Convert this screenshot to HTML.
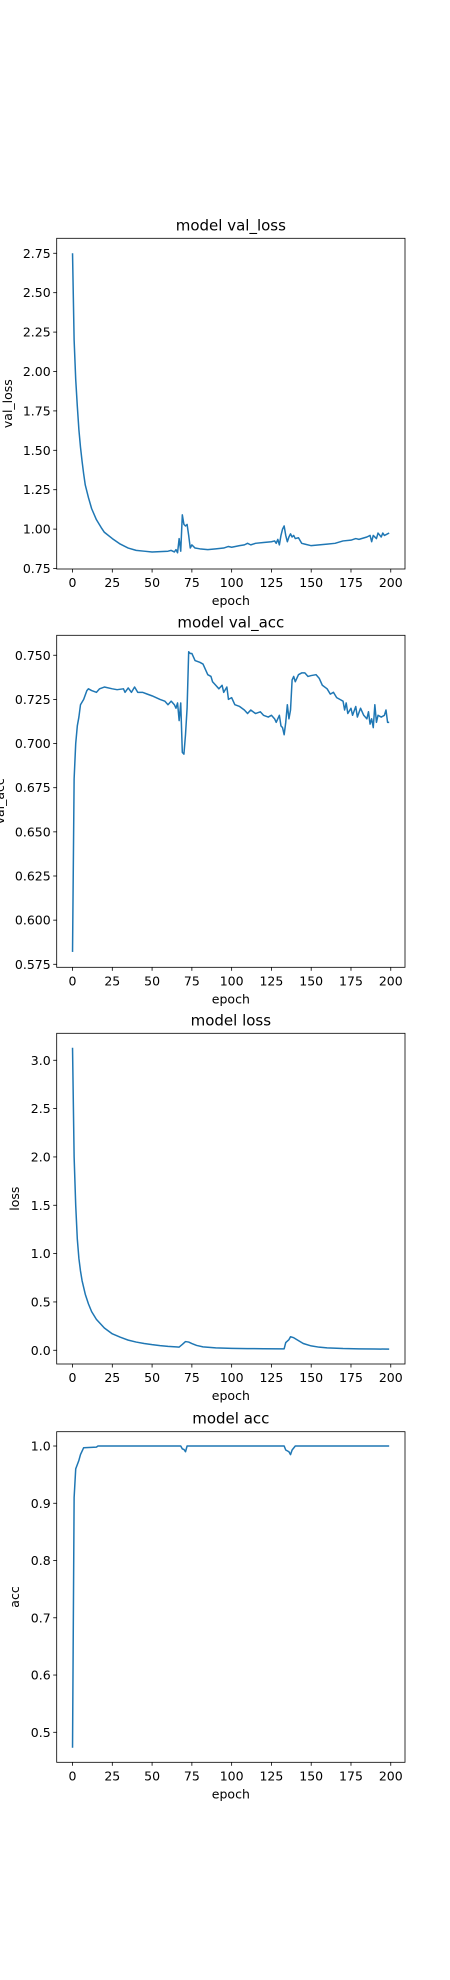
<!DOCTYPE html>
<html><head><meta charset="utf-8"><style>
html,body{margin:0;padding:0;background:#fff;}
svg{display:block;font-family:"DejaVu Sans","Liberation Sans",sans-serif;}
</style></head><body>
<svg id="fig" width="450" height="1980" viewBox="0 0 450 1980" xmlns="http://www.w3.org/2000/svg"></svg>
<script>
const xTicks = [0,25,50,75,100,125,150,175,200];

const valLossEpochs = [0,1,2,3,4,5,6,7,8,10,12,15,18,20,25,30,35,40,45,50,55,60,62,64,65,66,67,68,69,70,71,72,73,74,75,77,80,85,90,95,98,100,105,108,110,112,115,120,125,127,128,129,130,131,132,133,134,135,136,137,138,139,140,142,144,146,150,155,160,165,170,175,178,180,185,187,188,189,191,192,194,195,196,197,198,199];
const valLossValues = [2.75,2.2,1.95,1.78,1.63,1.52,1.43,1.35,1.28,1.2,1.13,1.06,1.01,0.98,0.94,0.905,0.88,0.865,0.86,0.855,0.857,0.86,0.865,0.855,0.87,0.85,0.94,0.86,1.09,1.03,1.02,1.03,0.96,0.88,0.9,0.88,0.875,0.87,0.875,0.88,0.89,0.885,0.895,0.9,0.91,0.9,0.91,0.915,0.92,0.925,0.91,0.935,0.9,0.96,1.0,1.02,0.96,0.92,0.95,0.97,0.95,0.96,0.94,0.945,0.91,0.905,0.895,0.9,0.905,0.91,0.925,0.93,0.94,0.935,0.95,0.96,0.92,0.96,0.94,0.975,0.95,0.975,0.96,0.965,0.97,0.975];
const valLossTicks = [0.75,1.00,1.25,1.50,1.75,2.00,2.25,2.50,2.75];
const valLossTickLabels = ["0.75","1.00","1.25","1.50","1.75","2.00","2.25","2.50","2.75"];

const valAccEpochs = [0,1,2,3,4,5,7,9,10,12,15,17,20,25,28,32,33,35,37,39,41,44,47,50,55,58,60,62,64,65,66,67,68,69,70,71,72,73,74,75,77,80,82,85,87,88,90,92,94,95,97,98,100,102,105,108,110,112,115,118,120,123,125,127,128,130,131,132,133,134,135,136,137,138,139,140,142,144,146,148,150,153,155,157,160,162,164,166,168,170,171,172,173,175,176,178,179,181,183,185,186,187,188,189,190,191,192,194,196,197,198,199];
const valAccValues = [0.582,0.68,0.70,0.71,0.715,0.722,0.725,0.730,0.731,0.730,0.729,0.731,0.732,0.731,0.7305,0.731,0.729,0.7315,0.729,0.732,0.729,0.729,0.728,0.727,0.725,0.724,0.722,0.724,0.722,0.720,0.723,0.713,0.723,0.695,0.694,0.705,0.720,0.752,0.751,0.751,0.747,0.746,0.745,0.739,0.738,0.735,0.733,0.731,0.733,0.729,0.732,0.725,0.726,0.722,0.721,0.719,0.717,0.719,0.717,0.718,0.716,0.715,0.716,0.714,0.712,0.716,0.710,0.709,0.705,0.712,0.722,0.714,0.719,0.736,0.738,0.735,0.739,0.740,0.740,0.738,0.7385,0.739,0.737,0.733,0.731,0.728,0.729,0.726,0.725,0.724,0.719,0.723,0.717,0.720,0.716,0.721,0.715,0.720,0.716,0.714,0.718,0.711,0.714,0.709,0.722,0.712,0.716,0.715,0.716,0.719,0.712,0.712];
const valAccTicks = [0.575,0.600,0.625,0.650,0.675,0.700,0.725,0.750];
const valAccTickLabels = ["0.575","0.600","0.625","0.650","0.675","0.700","0.725","0.750"];

const lossEpochs = [0,1,2,3,4,5,6,8,10,12,15,20,25,30,35,40,45,50,55,60,65,67,69,71,73,75,78,82,90,100,110,120,132,133,134,136,137,139,142,145,150,155,160,170,180,190,199];
const lossValues = [3.13,2.0,1.5,1.15,0.95,0.82,0.72,0.58,0.48,0.40,0.32,0.23,0.17,0.135,0.105,0.085,0.07,0.058,0.048,0.04,0.035,0.033,0.06,0.09,0.085,0.07,0.05,0.035,0.025,0.02,0.017,0.016,0.015,0.015,0.08,0.11,0.14,0.13,0.1,0.07,0.045,0.032,0.025,0.018,0.015,0.013,0.012];
const lossTicks = [0,0.5,1.0,1.5,2.0,2.5,3.0];
const lossTickLabels = ["0.0","0.5","1.0","1.5","2.0","2.5","3.0"];

const accEpochs = [0,1,2,4,5,7,15,16,68,69,70,71,72,133,134,136,137,138,140,199];
const accValues = [0.473,0.91,0.96,0.975,0.985,0.997,0.998,1.0,1.0,0.995,0.994,0.99,1.0,1.0,0.993,0.99,0.985,0.993,1.0,1.0];
const accTicks = [0.5,0.6,0.7,0.8,0.9,1.0];
const accTickLabels = ["0.5","0.6","0.7","0.8","0.9","1.0"];

const NS = "http://www.w3.org/2000/svg";
const fig = document.getElementById('fig');
function mk(tag, attrs, parent){
  const e = document.createElementNS(NS, tag);
  for (const k in attrs) e.setAttribute(k, attrs[k]);
  (parent||fig).appendChild(e);
  return e;
}
const L = 56.7, R = 405, X0 = -9.95, X1 = 208.95;
function xs(v){ return L + (v - X0) / (X1 - X0) * (R - L); }

function chart(key, title, ylabel, top, bottom, ymin, ymax, ex, ey, ticks, tlabels, ylabX){
  const g = mk('g', {});
  
  
  const ys = v => bottom - (v - ymin) / (ymax - ymin) * (bottom - top);
  const t = mk('text', {x: (L+R)/2, y: top - 8, 'text-anchor': 'middle', 'font-size': 15, fill: '#000'}, g);
  t.textContent = title;
  
  
  // x ticks
  xTicks.forEach(v => {
    const x = xs(v);
    const tk = mk('line', {x1: x, x2: x, y1: bottom, y2: bottom + 3.5, stroke: '#000', 'stroke-width': 0.8}, g);
    
    
    const tl = mk('text', {x: x, y: bottom + 18, 'text-anchor': 'middle', 'font-size': 12.5, fill: '#000'}, g);
    tl.textContent = String(v);
    
    
  });
  ticks.forEach((v, i) => {
    const y = ys(v);
    const tk = mk('line', {x1: L - 3.5, x2: L, y1: y, y2: y, stroke: '#000', 'stroke-width': 0.8}, g);
    
    
    const tl = mk('text', {x: L - 6, y: y + 4.5, 'text-anchor': 'end', 'font-size': 12.5, fill: '#000'}, g);
    tl.textContent = tlabels[i];
    
    
  });
  const xl = mk('text', {x: (L+R)/2, y: bottom + 36, 'text-anchor': 'middle', 'font-size': 12.5, fill: '#000'}, g);
  xl.textContent = 'epoch';
  
  
  const ym = (top + bottom) / 2;
  const yl = mk('text', {x: ylabX, y: ym, 'text-anchor': 'middle', 'font-size': 12.5, fill: '#000', transform: 'rotate(-90 ' + ylabX + ' ' + ym + ')'}, g);
  yl.textContent = ylabel;
  
  
  let d = '';
  ex.forEach((e, i) => { d += (i ? 'L' : 'M') + xs(e).toFixed(2) + ' ' + ys(ey[i]).toFixed(2); });
  const p = mk('path', {d: d, fill: 'none', stroke: '#1f77b4', 'stroke-width': 1.5, 'stroke-linejoin': 'round'}, g);
  
  
  const fr = mk('rect', {x: L, y: top, width: R - L, height: bottom - top, fill: 'none', stroke: '#000', 'stroke-width': 0.8}, g);
  
  
}
chart('val-loss', 'model val_loss', 'val_loss', 238.3, 569, 0.747, 2.845, valLossEpochs, valLossValues, valLossTicks, valLossTickLabels, 12);
chart('val-acc', 'model val_acc', 'val_acc', 635.3, 967.3, 0.5733, 0.7613, valAccEpochs, valAccValues, valAccTicks, valAccTickLabels, 4);
chart('loss', 'model loss', 'loss', 1033.3, 1364, -0.142, 3.279, lossEpochs, lossValues, lossTicks, lossTickLabels, 19);
chart('acc', 'model acc', 'acc', 1431.7, 1762.3, 0.4476, 1.025, accEpochs, accValues, accTicks, accTickLabels, 19);
</script>
</body></html>
